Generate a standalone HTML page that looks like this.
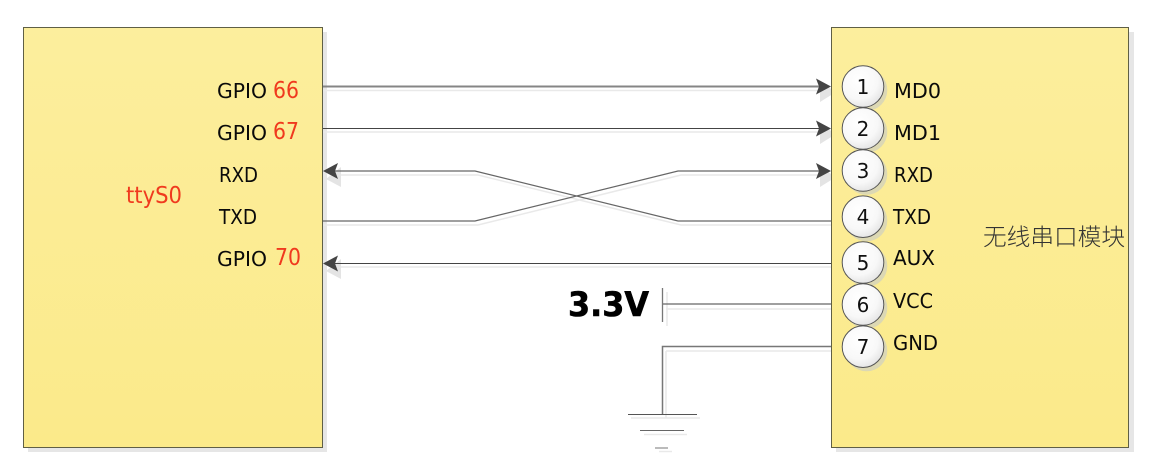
<!DOCTYPE html>
<html lang="zh">
<head>
<meta charset="utf-8">
<title>ttyS0 wiring diagram</title>
<style>
html,body{margin:0;padding:0;background:#fff;width:1159px;height:474px;overflow:hidden}
svg{display:block}
text{font-family:"DejaVu Sans","Noto Sans CJK SC",sans-serif;fill:#0a0a0a;font-size:20px}
.red{fill:#f03a1e;font-size:23px}
.num{font-size:20px;text-anchor:middle;fill:#111}
.sh{fill:none;stroke:#e9e9e9;stroke-width:1.5}
.w{fill:none}
</style>
</head>
<body>
<svg width="1159" height="474" viewBox="0 0 1159 474" xmlns="http://www.w3.org/2000/svg">
<defs>
<linearGradient id="boxFill" x1="0" y1="0" x2="0" y2="1"><stop offset="0" stop-color="#fcee9d"/><stop offset="1" stop-color="#fbea8a"/></linearGradient>
<radialGradient id="pinFill" cx="0.4" cy="0.35" r="0.75"><stop offset="0" stop-color="#ffffff"/><stop offset="0.6" stop-color="#f8f8f8"/><stop offset="1" stop-color="#dedede"/></radialGradient>
</defs>

<!-- box shadows -->
<rect x="28" y="32" width="299" height="420" fill="#e6e6e6"/>
<rect x="836" y="32" width="298" height="420" fill="#e6e6e6"/>

<!-- wire shadows -->
<g>
<path class="sh" d="M323 90.500H831M323 132H831M338 175H478L681 225H836M323 225H478L681 175H820M338 267H836M666 309H836M666 351V418M666 351H836"/>
<path d="M631 418H700M644 434.500H687M659 451.500H672" class="sh"/>
<path d="M667 292V326" class="sh"/>
<path d="M341 167L326 179L341 187Z M341 259L326 271L341 279Z M820 82L836 92L820 102Z M820 124L836 134L820 144Z M820 167L836 177L820 187Z" fill="#e4e4e4"/>
</g>

<!-- boxes -->
<rect x="23.500" y="27.500" width="299" height="420" fill="url(#boxFill)" stroke="#5f5f45" stroke-width="1"/>
<rect x="831.500" y="27.500" width="297" height="420" fill="url(#boxFill)" stroke="#5f5f45" stroke-width="1"/>

<!-- wires -->
<path class="w" d="M323 86.500H820" stroke="#858585" stroke-width="2"/>
<path class="w" d="M323 128.500H820" stroke="#444" stroke-width="1"/>
<path class="w" d="M335 171H475L678 221H831" stroke="#666" stroke-width="1.200"/>
<path class="w" d="M323 221H475L678 171H820" stroke="#666" stroke-width="1.200"/>
<path class="w" d="M335 263.500H831" stroke="#444" stroke-width="1"/>
<path class="w" d="M662.500 304H831" stroke="#666" stroke-width="1.300"/>
<path class="w" d="M831 346.500H662.500V414" stroke="#777" stroke-width="1.500"/>
<path class="w" d="M662.500 288V322" stroke="#777" stroke-width="1.300"/>
<g fill="none">
<path d="M628 414.500H697" stroke="#555" stroke-width="1"/>
<path d="M640 430.500H684" stroke="#666" stroke-width="1"/>
<path d="M655 448H668" stroke="#777" stroke-width="1"/>
</g>

<!-- arrowheads -->
<g fill="#444">
<path d="M323 171L338 163L335 171L338 179Z"/>
<path d="M323 263.500L338 255.500L335 263.500L338 271.500Z"/>
<path d="M831 86.500L816 78.500L819 86.500L816 94.500Z"/>
<path d="M831 128.500L816 120.500L819 128.500L816 136.500Z"/>
<path d="M831 171L816 163L819 171L816 179Z"/>
</g>

<!-- left labels -->
<text x="126" y="203" class="red" textLength="56" lengthAdjust="spacingAndGlyphs">ttyS0</text>
<text x="217" y="98" textLength="50" lengthAdjust="spacingAndGlyphs">GPIO</text>
<text x="273" y="98" class="red" textLength="26" lengthAdjust="spacingAndGlyphs">66</text>
<text x="217" y="140" textLength="50" lengthAdjust="spacingAndGlyphs">GPIO</text>
<text x="273" y="139" class="red" textLength="26" lengthAdjust="spacingAndGlyphs">67</text>
<text x="219" y="182" textLength="39" lengthAdjust="spacingAndGlyphs">RXD</text>
<text x="219" y="224" textLength="38" lengthAdjust="spacingAndGlyphs">TXD</text>
<text x="217" y="266" textLength="50" lengthAdjust="spacingAndGlyphs">GPIO</text>
<text x="275" y="265" class="red" textLength="26" lengthAdjust="spacingAndGlyphs">70</text>

<!-- pins -->
<g fill="#dcd8b4">
<circle cx="866.500" cy="90" r="20.800"/><circle cx="866.500" cy="132" r="20.800"/><circle cx="866.500" cy="174" r="20.800"/><circle cx="866.500" cy="220.500" r="20.800"/><circle cx="866.500" cy="266" r="20.800"/><circle cx="866.500" cy="308" r="20.800"/><circle cx="866.500" cy="350.500" r="20.800"/>
</g>
<g fill="url(#pinFill)" stroke="#555" stroke-width="1">
<circle cx="863" cy="86.500" r="20.800"/>
<circle cx="863" cy="128.500" r="20.800"/>
<circle cx="863" cy="170.500" r="20.800"/>
<circle cx="863" cy="216.700" r="20.800"/>
<circle cx="863" cy="262.500" r="20.800"/>
<circle cx="863" cy="304.500" r="20.800"/>
<circle cx="863" cy="346.700" r="20.800"/>
</g>
<text x="863" y="94" class="num">1</text>
<text x="863" y="136" class="num">2</text>
<text x="863" y="178" class="num">3</text>
<text x="863" y="224" class="num">4</text>
<text x="863" y="270" class="num">5</text>
<text x="863" y="312" class="num">6</text>
<text x="863" y="354" class="num">7</text>

<!-- right labels -->
<text x="894" y="98" textLength="47" lengthAdjust="spacingAndGlyphs">MD0</text>
<text x="894" y="140" textLength="47" lengthAdjust="spacingAndGlyphs">MD1</text>
<text x="894" y="182" textLength="39" lengthAdjust="spacingAndGlyphs">RXD</text>
<text x="893" y="224" textLength="38" lengthAdjust="spacingAndGlyphs">TXD</text>
<text x="893" y="265" textLength="42" lengthAdjust="spacingAndGlyphs">AUX</text>
<text x="893" y="308" textLength="40" lengthAdjust="spacingAndGlyphs">VCC</text>
<text x="893" y="350" textLength="45" lengthAdjust="spacingAndGlyphs">GND</text>
<text x="983" y="245" textLength="142" lengthAdjust="spacingAndGlyphs" style="font-family:'Noto Sans CJK SC',sans-serif;font-size:23.500px;fill:#333;font-weight:300">无线串口模块</text>
<text x="568" y="316" textLength="81" lengthAdjust="spacingAndGlyphs" style="font-weight:900;font-size:34px;fill:#000;stroke:#000;stroke-width:0.600">3.3V</text>
</svg>
</body>
</html>
